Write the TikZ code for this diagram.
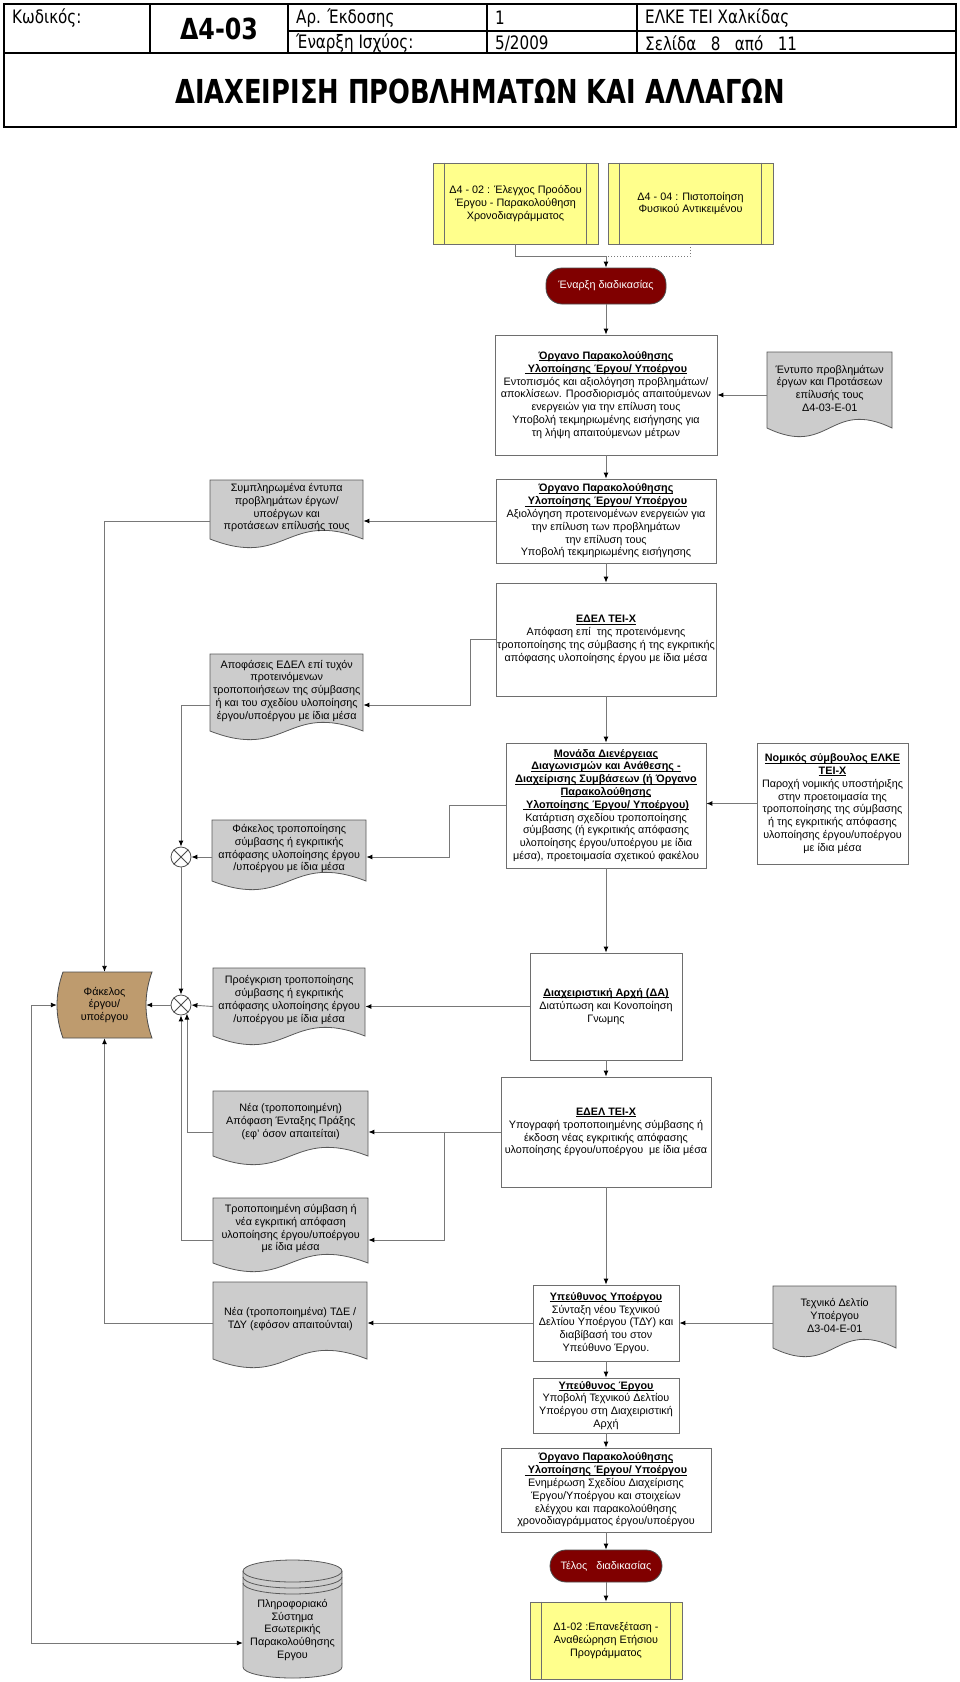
\documentclass[tikz,border=0pt]{standalone}
\usepackage{fontspec}
\setmainfont{Liberation Sans}
\newfontfamily\hdrfont[FakeStretch=0.82]{DejaVu Sans}
\newfontfamily\ttlfont[FakeStretch=0.78]{DejaVu Sans}
\usetikzlibrary{arrows.meta,calc}
\definecolor{lineg}{RGB}{120,120,120}
\definecolor{boxb}{RGB}{110,110,110}
\definecolor{docfill}{RGB}{204,204,204}
\definecolor{yel}{RGB}{255,255,140}
\definecolor{dred}{RGB}{128,0,0}
\definecolor{tanc}{RGB}{190,155,110}
\tikzset{
  txt/.style={align=center, font=\fontsize{10.8}{12.8}\selectfont, inner sep=0pt},
  box/.style={draw=boxb, fill=white, line width=0.8pt, txt},
  ybox/.style={draw=boxb, fill=yel, line width=0.8pt, txt},
  oval/.style={draw=black!70, fill=dred, text=white, rounded corners=16pt, line width=0.8pt, txt},
  docsty/.style={draw=black!65, fill=docfill, line width=0.8pt},
  conn/.style={draw=lineg, line width=0.9pt},
  arr/.style={conn, -{Latex[length=6pt,width=5pt,color=black]}},
  arrb/.style={conn, {Latex[length=6pt,width=5pt,color=black]}-{Latex[length=6pt,width=5pt,color=black]}},
  xnode/.style={circle, draw=black!70, fill=white, minimum size=20pt, inner sep=0pt, line width=0.8pt},
  hdr/.style={font=\hdrfont\fontsize{18.5}{21}\selectfont, inner sep=0pt, anchor=west},
  hline/.style={line width=1.6pt, draw=black}
}
\newcommand\hd[1]{\setbox0=\hbox{\textbf{#1}}\rlap{\rule[-1.5pt]{\wd0}{0.6pt}}\box0}
\newcommand\rectnode[7]{%
  \pgfmathsetmacro\qcx{(#3+#5)/2}\pgfmathsetmacro\qcy{(#4+#6)/2}%
  \pgfmathsetmacro\qw{#5-#3}\pgfmathsetmacro\qh{#6-#4}%
  \node[#1, minimum width=\qw pt, minimum height=\qh pt] (#2) at (\qcx,\qcy) {#7};}
\newcommand\docnode[6]{%
  \pgfmathsetmacro\qw{#4-#2}\pgfmathsetmacro\qyb{#5-9}%
  \pgfmathsetmacro\qh{\qyb-#3-4}%
  \pgfmathsetmacro\qca{#4-0.5*\qw}\pgfmathsetmacro\qcb{#2+0.5*\qw}%
  \pgfmathsetmacro\qyu{\qyb-30}\pgfmathsetmacro\qyd{\qyb+30}%
  \draw[docsty] (#2,#3) -- (#4,#3) -- (#4,\qyb) .. controls (\qca,\qyu) and (\qcb,\qyd) .. (#2,\qyb) -- cycle;
  \node[txt, minimum width=\qw pt, minimum height=\qh pt, anchor=north west] (#1) at (#2,#3) {#6};}
\begin{document}
\begin{tikzpicture}[x=1pt,y=-1pt]
\useasboundingbox (0,0) rectangle (960,1682);
\fill[white] (0,0) rectangle (960,1682);
% ---------- header ----------
\draw[line width=2.6pt] (4,4) rectangle (956,127);
\draw[hline] (4,53) -- (956,53);
\draw[hline] (150,4) -- (150,53);
\draw[hline] (288,4) -- (288,53);
\draw[hline] (487,4) -- (487,53);
\draw[hline] (637,4) -- (637,53);
\draw[hline] (288,31) -- (956,31);
\node[hdr] (h1) at (12,18) {Κωδικός:};
\node[hdr, anchor=center, font=\hdrfont\bfseries\fontsize{29}{32}\selectfont] (h2) at (219,29) {Δ4-03};
\node[hdr] (h3) at (296,18) {Αρ. Έκδοσης};
\node[hdr] (h4) at (296,43.5) {Έναρξη Ισχύος:};
\node[hdr] (h5) at (495,18) {1};
\node[hdr] (h6) at (495,43.5) {5/2009};
\node[hdr] (h7) at (645,18) {ΕΛΚΕ ΤΕΙ Χαλκίδας};
\node[hdr] (h8) at (645,43.5) {Σελίδα\ \ \ 8\ \ \ από\ \ \ 11};
\node[hdr, anchor=center, font=\ttlfont\bfseries\fontsize{33}{36}\selectfont] (h9) at (480,91) {ΔΙΑΧΕΙΡΙΣΗ ΠΡΟΒΛΗΜΑΤΩΝ ΚΑΙ ΑΛΛΑΓΩΝ};
% ---------- top predefined processes ----------
\rectnode{ybox}{A}{433}{163}{598}{244}{Δ4 - 02 : Έλεγχος Προόδου\\Έργου - Παρακολούθηση\\Χρονοδιαγράμματος}
\rectnode{ybox}{B}{608}{163}{773}{244}{Δ4 - 04 : Πιστοποίηση\\Φυσικού Αντικειμένου}
\foreach \n in {A,B}{
  \draw[boxb, line width=0.8pt] ($(\n.north west)+(12,0)$) -- ($(\n.south west)+(12,0)$);
  \draw[boxb, line width=0.8pt] ($(\n.north east)+(-12,0)$) -- ($(\n.south east)+(-12,0)$);}
\rectnode{oval}{S0}{546}{268}{666}{304}{Έναρξη διαδικασίας}
% ---------- main column ----------
\rectnode{box}{C}{495}{335}{717}{455}{\hd{Όργανο Παρακολούθησης}\\\hd{ Υλοποίησης Έργου/ Υποέργου}\\Εντοπισμός και αξιολόγηση προβλημάτων/\\αποκλίσεων. Προσδιορισμός απαιτούμενων\\ενεργειών για την επίλυση τους\\Υποβολή τεκμηριωμένης εισήγησης για\\τη λήψη απαιτούμενων μέτρων}
\docnode{D}{767}{352}{892}{437}{Έντυπο προβλημάτων\\έργων και Προτάσεων\\επίλυσής τους\\Δ4-03-Ε-01}
\rectnode{box}{E}{496}{479}{716}{563}{\hd{Όργανο Παρακολούθησης}\\\hd{ Υλοποίησης Έργου/ Υποέργου}\\Αξιολόγηση προτεινομένων ενεργειών για\\την επίλυση των προβλημάτων\\την επίλυση τους\\Υποβολή τεκμηριωμένης εισήγησης}
\docnode{F}{210}{480}{363}{548}{Συμπληρωμένα έντυπα\\προβλημάτων έργων/\\υποέργων και\\προτάσεων επίλυσής τους}
\rectnode{box}{G}{496}{583}{716}{696}{\hd{ΕΔΕΛ ΤΕΙ-Χ}\\Απόφαση επί\ \ της προτεινόμενης\\τροποποίησης της σύμβασης ή της εγκριτικής\\απόφασης υλοποίησης έργου με ίδια μέσα}
\docnode{H}{210}{654}{363}{740}{Αποφάσεις ΕΔΕΛ επί τυχόν\\προτεινόμενων\\τροποποιήσεων της σύμβασης\\ή και του σχεδίου υλοποίησης\\έργου/υποέργου με ίδια μέσα}
\rectnode{box}{I}{506}{743}{706}{868}{\hd{Μονάδα Διενέργειας}\\\hd{Διαγωνισμών και Ανάθεσης -}\\\hd{Διαχείρισης Συμβάσεων (ή Όργανο}\\\hd{Παρακολούθησης}\\\hd{ Υλοποίησης Έργου/ Υποέργου)}\\Κατάρτιση σχεδίου τροποποίησης\\σύμβασης (ή εγκριτικής απόφασης\\υλοποίησης έργου/υποέργου με ίδια\\μέσα), προετοιμασία σχετικού φακέλου}
\rectnode{box}{J}{757}{743}{908}{864}{\hd{Νομικός σύμβουλος ΕΛΚΕ}\\\hd{ΤΕΙ-Χ}\\Παροχή νομικής υποστήριξης\\στην προετοιμασία της\\τροποποίησης της σύμβασης\\ή της εγκριτικής απόφασης\\υλοποίησης έργου/υποέργου\\με ίδια μέσα}
\docnode{K}{212}{820}{366}{890}{Φάκελος τροποποίησης\\σύμβασης ή εγκριτικής\\απόφασης υλοποίησης έργου\\/υποέργου με ίδια μέσα}
\node[xnode] (X1) at (181,857) {};
\draw[black!70, line width=0.8pt] (X1.45) -- (X1.225) (X1.135) -- (X1.-45);
% Fakelos (stored data)
\draw[draw=black!70, fill=tanc, line width=0.8pt] (63,972) -- (152,972) .. controls (144,994) and (144,1016) .. (152,1038) -- (63,1038) .. controls (55,1016) and (55,994) .. (63,972) -- cycle;
\rectnode{txt}{Fak}{57}{972}{152}{1038}{Φάκελος\\έργου/\\υποέργου}
\node[xnode] (X2) at (181,1005) {};
\draw[black!70, line width=0.8pt] (X2.45) -- (X2.225) (X2.135) -- (X2.-45);
\docnode{L}{213}{968}{365}{1045}{Προέγκριση τροποποίησης\\σύμβασης ή εγκριτικής\\απόφασης υλοποίησης έργου\\/υποέργου με ίδια μέσα}
\rectnode{box}{M}{530}{953}{682}{1060}{\hd{Διαχειριστική Αρχή (ΔΑ)}\\Διατύπωση και Κονοποίηση\\Γνωμης}
\rectnode{box}{N}{501}{1077}{711}{1187}{\hd{ΕΔΕΛ ΤΕΙ-Χ}\\Υπογραφή τροποποιημένης σύμβασης ή\\έκδοση νέας εγκριτικής απόφασης\\υλοποίησης έργου/υποέργου\ \ με ίδια μέσα}
\docnode{O}{213}{1091}{368}{1165}{Νέα (τροποποιημένη)\\Απόφαση Ένταξης Πράξης\\(εφ' όσον απαιτείται)}
\docnode{P}{213}{1198}{368}{1272}{Τροποποιημένη σύμβαση ή\\νέα εγκριτική απόφαση\\υλοποίησης έργου/υποέργου\\με ίδια μέσα}
\rectnode{box}{Q}{533}{1285}{679}{1361}{\hd{Υπεύθυνος Υποέργου}\\Σύνταξη νέου Τεχνικού\\Δελτίου Υποέργου (ΤΔΥ) και\\διαβίβασή του στον\\Υπεύθυνο Έργου.}
\docnode{R}{213}{1282}{367}{1368}{Νέα (τροποποιημένα) ΤΔΕ /\\ΤΔΥ (εφόσον απαιτούνται)}
\docnode{Sd}{773}{1286}{896}{1357}{Τεχνικό Δελτίο\\Υποέργου\\Δ3-04-Ε-01}
\rectnode{box}{T}{533}{1378}{679}{1433}{\hd{Υπεύθυνος Έργου}\\Υποβολή Τεχνικού Δελτίου\\Υποέργου στη Διαχειριστική\\Αρχή}
\rectnode{box}{U}{501}{1448}{711}{1532}{\hd{Όργανο Παρακολούθησης}\\\hd{ Υλοποίησης Έργου/ Υποέργου}\\Ενημέρωση Σχεδίου Διαχείρισης\\Έργου/Υποέργου και στοιχείων\\ελέγχου και παρακολούθησης\\χρονοδιαγράμματος έργου/υποέργου}
\rectnode{oval}{En}{550}{1550}{662}{1582}{Τέλος\ \ \ διαδικασίας}
\rectnode{ybox}{V}{530}{1602}{682}{1679}{Δ1-02 :Επανεξέταση -\\Αναθεώρηση Ετήσιου\\Προγράμματος}
\draw[boxb, line width=0.8pt] ($(V.north west)+(12,0)$) -- ($(V.south west)+(12,0)$);
\draw[boxb, line width=0.8pt] ($(V.north east)+(-12,0)$) -- ($(V.south east)+(-12,0)$);
% cylinder
\filldraw[draw=black!65, fill=docfill, line width=0.8pt] (243,1571) -- (243,1667) arc[start angle=180, end angle=360, x radius=49.5pt, y radius=11pt] -- (342,1571) arc[start angle=0, end angle=180, x radius=49.5pt, y radius=11pt] -- cycle;
\draw[draw=black!65, line width=0.8pt] (243,1571) arc[start angle=180, end angle=360, x radius=49.5pt, y radius=11pt];
\draw[draw=black!65, line width=0.8pt] (243,1577) arc[start angle=180, end angle=360, x radius=49.5pt, y radius=11pt];
\draw[draw=black!65, line width=0.8pt] (243,1583) arc[start angle=180, end angle=360, x radius=49.5pt, y radius=11pt];
\rectnode{txt}{Cyl}{243}{1595}{342}{1665}{Πληροφοριακό\\Σύστημα\\Εσωτερικής\\Παρακολούθησης\\Εργου}
% ---------- connectors ----------
\coordinate (jAB) at (606,256);
\draw[conn] (A.south) |- (jAB);
\draw[conn, dotted] (B.south) |- (jAB);
\draw[arr] (jAB) -- (jAB |- S0.north);
\draw[arr] (S0.south) -- (S0.south |- C.north);
\draw[arr] (D.west |- 0,395) -- (C.east |- 0,395);
\draw[arr] (C.south) -- (C.south |- E.north);
\draw[arr] (E.west) -- (E.west -| F.east);
\draw[arr] (E.west -| F.west) -| (Fak.north);
\draw[arr] (E.south) -- (E.south |- G.north);
\coordinate (jG) at (470,705);
\draw[arr] (G.west) -| (jG) -- (jG -| H.east);
\draw[arr] (jG -| H.west) -| (X1.north);
\draw[arr] (G.south) -- (G.south |- I.north);
\draw[arr] (J.west) -- (J.west -| I.east);
\coordinate (jI) at (449,857);
\draw[arr] (I.west) -| (jI) -- (jI -| K.east);
\draw[arr] (jI -| K.west) -- (X1.east);
\draw[arr] (X1.south) -- (X2.north);
\draw[arr] (I.south) -- (I.south |- M.north);
\draw[arr] (M.west) -- (M.west -| L.east);
\draw[arr] (M.west -| L.west) -- (X2.east);
\draw[arr] (X2.west) -- ($(Fak.east)+(-6,0)$);
\draw[arr] (M.south) -- (M.south |- N.north);
\coordinate (jN) at (444,1132);
\draw[arr] (N.west) -- (N.west -| O.east);
\draw[arr] (jN) |- (P.east |- 0,1240);
\draw[arr] (N.west -| O.west) -| (X2.-55);
\draw[arr] (P.west |- 0,1240) -| (X2.south);
\draw[arr] (N.south) -- (N.south |- Q.north);
\draw[arr] (Q.east -| Sd.west) -- (Q.east);
\draw[arr] (Q.west) -- (Q.west -| R.east);
\draw[arr] (Q.west -| R.west) -| (Fak.south);
\draw[arr] (Q.south) -- (Q.south |- T.north);
\draw[arr] (T.south) -- (T.south |- U.north);
\draw[arr] (U.south) -- (U.south |- En.north);
\draw[arr] (En.south) -- (En.south |- V.north);
\coordinate (jF1) at (31,1005);
\coordinate (jF2) at (31,1643);
\draw[arrb] (Fak.west) -- (jF1) -- (jF2) -- (jF2 -| Cyl.west);
\end{tikzpicture}
\end{document}
